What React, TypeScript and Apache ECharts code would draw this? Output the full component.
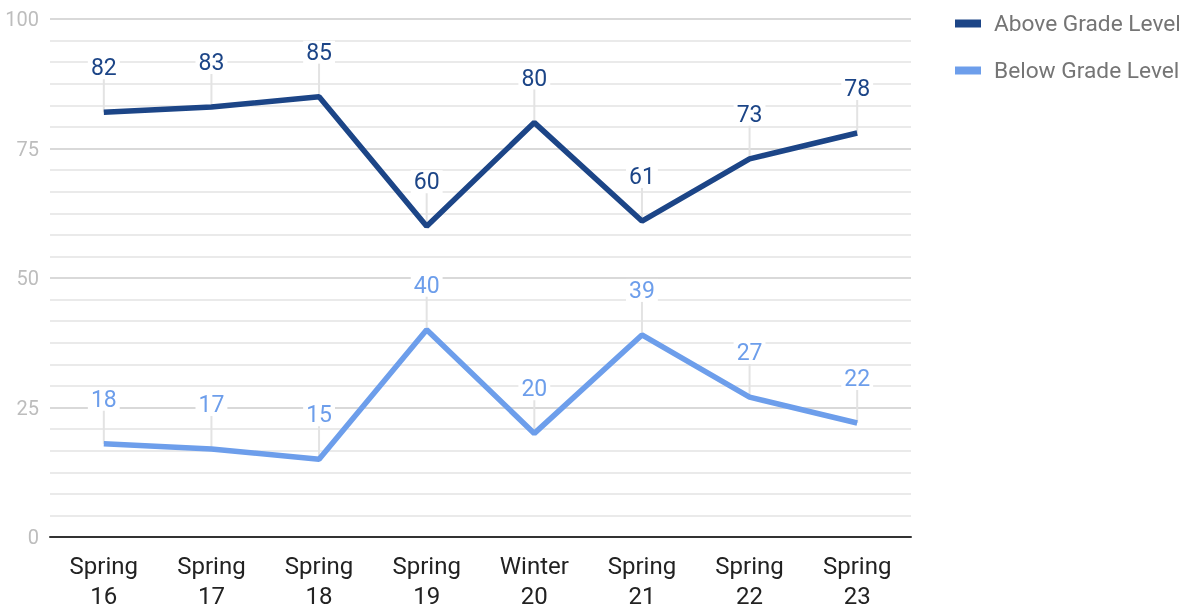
import React, { useEffect, useRef } from "react";
import * as echarts from "echarts";

const categories = ["Spring\n16", "Spring\n17", "Spring\n18", "Spring\n19", "Winter\n20", "Spring\n21", "Spring\n22", "Spring\n23"];
const aboveGrade = [82, 83, 85, 60, 80, 61, 73, 78];
const belowGrade = [18, 17, 15, 40, 20, 39, 27, 22];
const seriesNames = ["Above Grade Level", "Below Grade Level"];
const colors = ["#1c4587", "#6d9eeb"];

export default function App() {
  const ref = useRef<HTMLDivElement>(null);
  useEffect(() => {
    const chart = echarts.init(ref.current!, null, { renderer: "svg" });
    const stem = (vals: number[], name: string) => ({
      type: "custom",
      name: name + " stems",
      z: 1,
      silent: true,
      legendHoverLink: false,
      data: vals.map((v, i) => [i, v]),
      renderItem: (params: any, api: any) => {
        const p = api.coord([api.value(0), api.value(1)]);
        return {
          type: "line",
          shape: { x1: p[0], y1: p[1], x2: p[0], y2: p[1] - 34 },
          style: { stroke: "#e3e3e3", lineWidth: 2 },
        };
      },
    });
    const line = (vals: number[], idx: number) => ({
      type: "line",
      name: seriesNames[idx],
      data: vals,
      z: 3,
      symbol: "circle",
      symbolSize: 0.1,
      showSymbol: true,
      lineStyle: { color: colors[idx], width: 5.5 },
      itemStyle: { color: colors[idx] },
      label: {
        show: true,
        position: "top",
        distance: 33,
        color: colors[idx],
        fontSize: 23,
        fontFamily: "Roboto",
        backgroundColor: "#ffffff",
        padding: [0, 3],
      },
    });
    chart.setOption({
      animation: false,
      textStyle: { fontFamily: "Roboto" },
      grid: { left: 50, right: 277, top: 19, bottom: 73, outerBoundsMode: "none", containLabel: false },
      legend: {
        data: seriesNames.map((n, i) => ({ name: n, itemStyle: { color: colors[i] } })),
        orient: "vertical",
        left: 950,
        top: 7,
        itemGap: 24,
        itemWidth: 26,
        itemHeight: 8,
        icon: "rect",
        textStyle: { color: "#757575", fontSize: 22.7, fontFamily: "Roboto", padding: [0, 0, 0, 8] },
      },
      xAxis: {
        type: "category",
        data: categories,
        boundaryGap: true,
        axisLine: { show: true, lineStyle: { color: "#333333", width: 2 } },
        axisTick: { show: false },
        axisLabel: { color: "#222222", fontSize: 24, lineHeight: 30, margin: 14, fontFamily: "Roboto" },
      },
      yAxis: {
        type: "value",
        min: 0,
        max: 100,
        interval: 25,
        axisLine: { show: false },
        axisTick: { show: false },
        axisLabel: { color: "#bdbdbd", fontSize: 20, margin: 11, fontFamily: "Roboto" },
        splitLine: { show: true, lineStyle: { color: "#cccccc", width: 1.5 } },
        minorTick: { show: false, splitNumber: 6 },
        minorSplitLine: { show: true, lineStyle: { color: "#e3e3e3", width: 1.5 } },
      },
      series: [stem(aboveGrade, seriesNames[0]), stem(belowGrade, seriesNames[1]), line(aboveGrade, 0), line(belowGrade, 1)],
    });
    return () => chart.dispose();
  }, []);
  return <div ref={ref} style={{ position: "fixed", left: 0, top: 0, width: 1188, height: 610 }} />;
}
